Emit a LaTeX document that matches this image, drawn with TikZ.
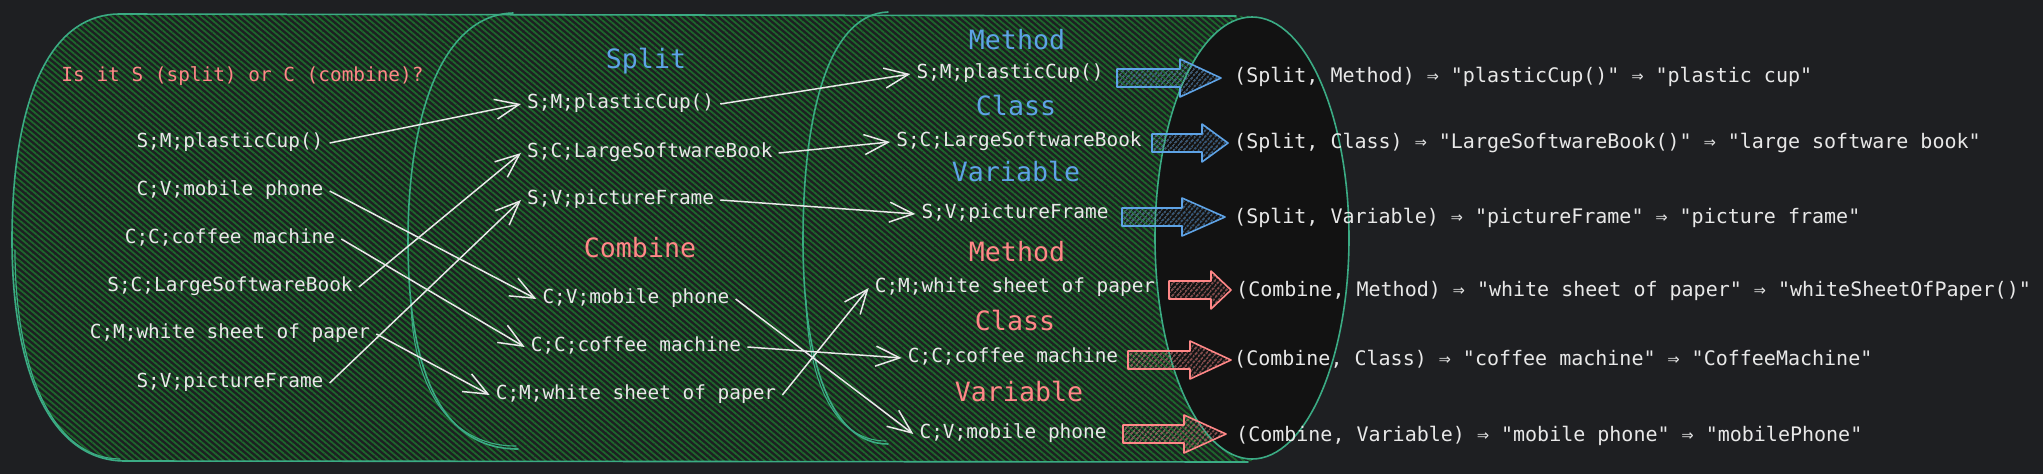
\documentclass[tikz,border=0pt]{standalone}
\usepackage{fontspec}
\setmonofont{DejaVu Sans Mono}
\usetikzlibrary{arrows.meta,patterns.meta}
\definecolor{bg}{HTML}{1E1F22}
\definecolor{ellfill}{HTML}{121212}
\definecolor{teal}{HTML}{3BAB84}
\definecolor{hatch}{HTML}{1C682B}
\definecolor{txt}{HTML}{E8E8E8}
\definecolor{bluec}{HTML}{5EA3E6}
\definecolor{redc}{HTML}{FF8787}
\newcommand\blkarr[5]{\draw[#5] (#1,#4-9) -- (#2,#4-9) -- (#2,#4-19) -- (#3,#4) -- (#2,#4+19) -- (#2,#4+9) -- (#1,#4+9) -- cycle;}
\begin{document}
\begin{tikzpicture}[x=1pt,y=-1pt,
  cyl/.style={draw=teal, line width=1.6pt, line cap=round, line join=round},
  it/.style={font=\ttfamily\fontsize{19.4}{22}\selectfont, text=txt, inner xsep=6pt, inner ysep=0pt, text height=14.5pt, text depth=4.8pt},
  hd/.style={font=\ttfamily\fontsize{26.6}{30}\selectfont, inner sep=0pt, text height=20pt, text depth=6.6pt},
  rt/.style={font=\ttfamily\fontsize{20}{24}\selectfont, text=txt, anchor=west, inner sep=0pt, text height=15pt, text depth=5pt},
  conn/.style={draw=txt, line width=1.5pt, -{Straight Barb[length=24pt,width=20pt]}},
  barrB/.style={draw=bluec, line width=1.6pt, line join=round, pattern={Lines[angle=50,distance=4pt,line width=1.2pt]}, pattern color=bluec!75!black},
  barrR/.style={draw=redc, line width=1.6pt, line join=round, pattern={Lines[angle=50,distance=4pt,line width=1.2pt]}, pattern color=redc!75!black}]
\fill[bg] (0,0) rectangle (2043,474);
\useasboundingbox (0,0) rectangle (2043,474);
% hatched body
\path[pattern={Lines[angle=-40,distance=4.4pt,line width=1.8pt]}, pattern color=hatch]
  (125,461) .. controls (50,461) and (12,370) .. (12,240) .. controls (12,110) and (45,14) .. (120,14) -- (1252,16) -- (1252,461) -- cycle;
% outlines
\draw[cyl] (1248,462) -- (125,461) .. controls (50,461) and (12,370) .. (12,240) .. controls (12,110) and (45,14) .. (120,14) -- (1236,16);
\draw[cyl, line width=1.2pt] (120,459) .. controls (52,458) and (15,370) .. (15,250);
\draw[cyl] (513,13) .. controls (440,15) and (408,120) .. (408,240) .. controls (408,370) and (440,449) .. (518,449);
\draw[cyl, line width=1.1pt] (411,300) .. controls (412,380) and (445,446) .. (516,446);
\draw[cyl] (888,12) .. controls (830,14) and (803,110) .. (803,240) .. controls (803,360) and (830,444) .. (888,444);
\draw[cyl, line width=1.1pt] (806,300) .. controls (808,380) and (834,441) .. (886,441);
\draw[cyl, fill=ellfill] (1252,238) ellipse [x radius=97, y radius=221];
% block arrows
\blkarr{1117}{1180}{1221}{78}{barrB}
\blkarr{1152}{1202}{1228}{143}{barrB}
\blkarr{1122}{1182}{1225}{217}{barrB}
\blkarr{1169}{1211}{1231}{290}{barrR}
\blkarr{1128}{1190}{1231}{360}{barrR}
\blkarr{1123}{1184}{1226}{434}{barrR}
% column 1
\node[it, text=redc] (q) at (242.5,77) {Is it S (split) or C (combine)?};
\node[it] (a1) at (230,143) {S;M;plasticCup()};
\node[it] (a2) at (230,191) {C;V;mobile phone};
\node[it] (a3) at (230,239) {C;C;coffee machine};
\node[it] (a4) at (230,287) {S;C;LargeSoftwareBook};
\node[it] (a5) at (230,334) {C;M;white sheet of paper};
\node[it] (a6) at (230,383) {S;V;pictureFrame};
% column 2
\node[hd, text=bluec] (hs) at (646,62) {Split};
\node[it, anchor=west] (b1) at (521,104) {S;M;plasticCup()};
\node[it, anchor=west] (b2) at (521,153) {S;C;LargeSoftwareBook};
\node[it, anchor=west] (b3) at (521,200) {S;V;pictureFrame};
\node[hd, text=redc] (hc) at (640,251) {Combine};
\node[it] (b4) at (636,299) {C;V;mobile phone};
\node[it] (b5) at (636,347) {C;C;coffee machine};
\node[it] (b6) at (636,395) {C;M;white sheet of paper};
% column 3
\node[hd, text=bluec] (h1) at (1017,43) {Method};
\node[it] (c1) at (1010,74) {S;M;plasticCup()};
\node[hd, text=bluec] (h2) at (1016,109) {Class};
\node[it] (c2) at (1019,142) {S;C;LargeSoftwareBook};
\node[hd, text=bluec] (h3) at (1016,175) {Variable};
\node[it] (c3) at (1015,214) {S;V;pictureFrame};
\node[hd, text=redc] (h4) at (1017,255) {Method};
\node[it] (c4) at (1015,288) {C;M;white sheet of paper};
\node[hd, text=redc] (h5) at (1015,324) {Class};
\node[it] (c5) at (1013,358) {C;C;coffee machine};
\node[hd, text=redc] (h6) at (1019,395) {Variable};
\node[it] (c6) at (1013,434) {C;V;mobile phone};
% results
\node[rt] (r1) at (1234,77) {(Split, Method) ⇒ "plasticCup()" ⇒ "plastic cup"};
\node[rt] (r2) at (1234,143) {(Split, Class) ⇒ "LargeSoftwareBook()" ⇒ "large software book"};
\node[rt] (r3) at (1234,218) {(Split, Variable) ⇒ "pictureFrame" ⇒ "picture frame"};
\node[rt] (r4) at (1236,291) {(Combine, Method) ⇒ "white sheet of paper" ⇒ "whiteSheetOfPaper()"};
\node[rt] (r5) at (1234,360) {(Combine, Class) ⇒ "coffee machine" ⇒ "CoffeeMachine"};
\node[rt] (r6) at (1236,436) {(Combine, Variable) ⇒ "mobile phone" ⇒ "mobilePhone"};
% connectors
\draw[conn] (a1.east) -- (b1.west);
\draw[conn] (a2.east) -- (b4.west);
\draw[conn] (a3.east) -- (b5.west);
\draw[conn] (a4.east) -- (b2.west);
\draw[conn] (a5.east) -- (b6.west);
\draw[conn] (a6.east) -- (b3.west);
\draw[conn] (b1.east) -- (c1.west);
\draw[conn] (b2.east) -- (c2.west);
\draw[conn] (b3.east) -- (c3.west);
\draw[conn] (b4.east) -- (c6.west);
\draw[conn] (b5.east) -- (c5.west);
\draw[conn] (b6.east) -- (c4.west);
\end{tikzpicture}
\end{document}
